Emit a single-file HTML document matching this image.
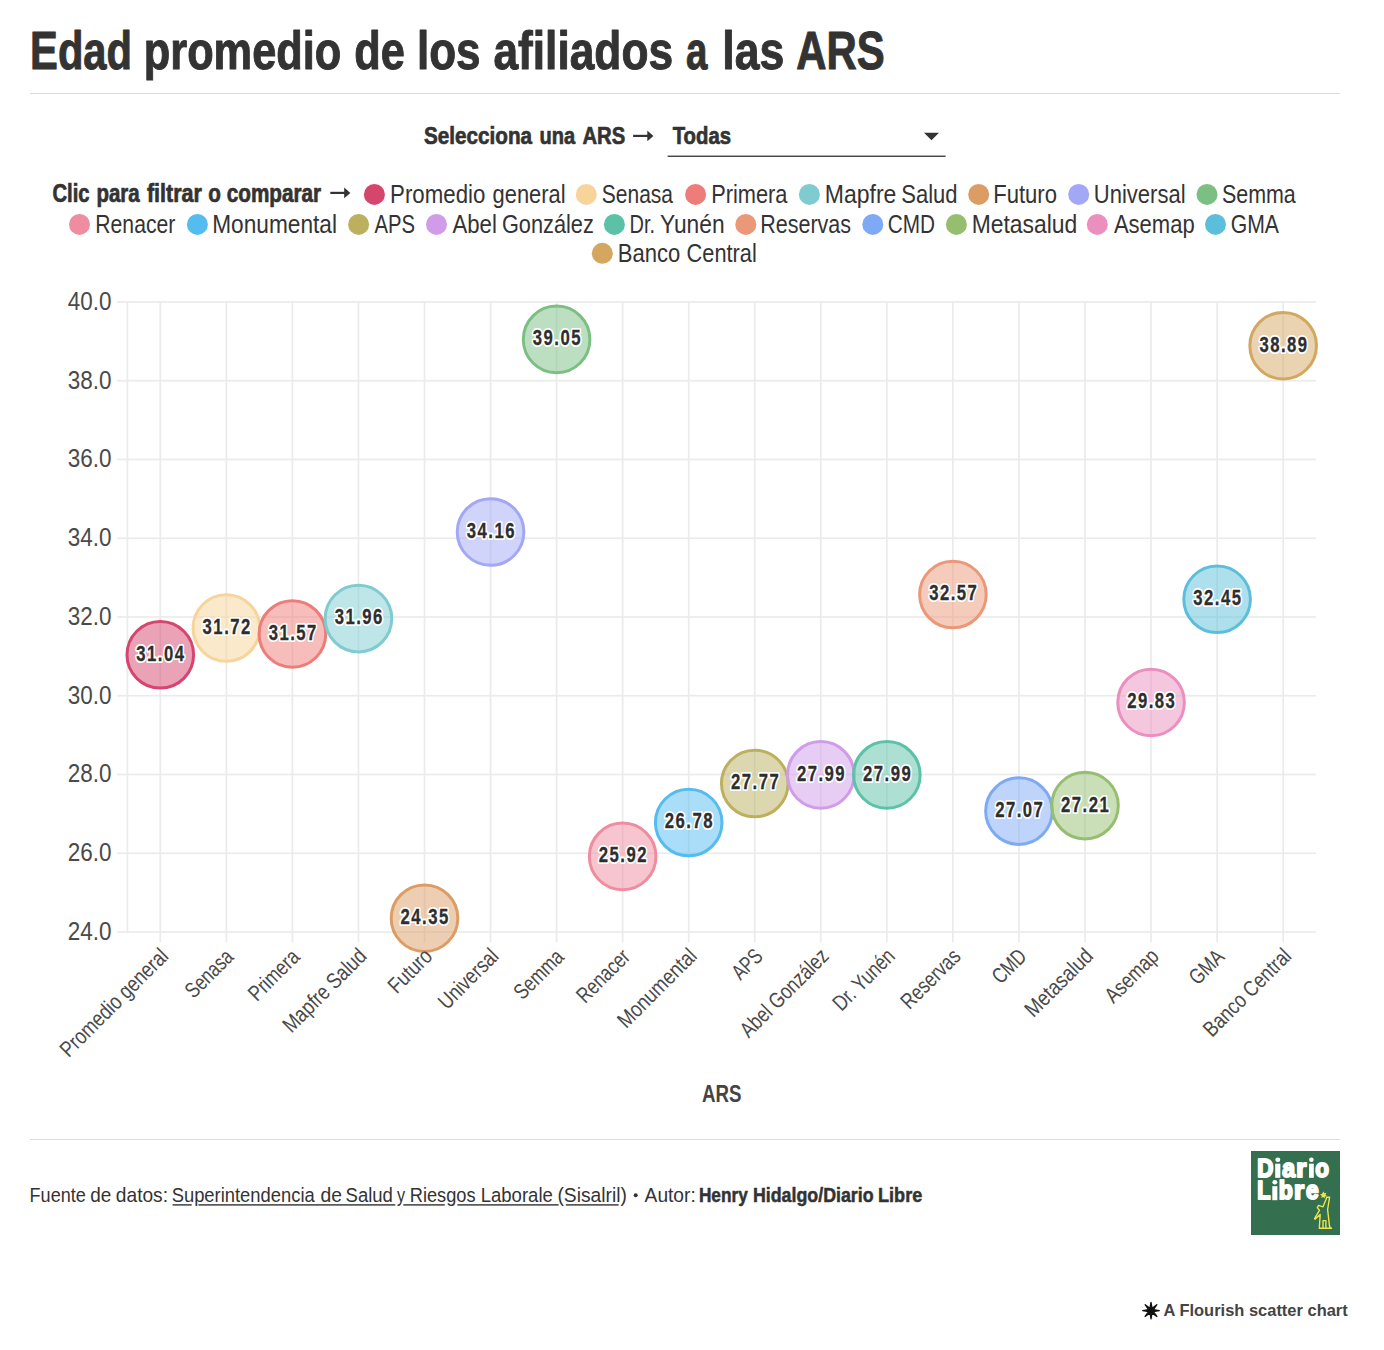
<!DOCTYPE html>
<html><head><meta charset="utf-8"><title>Edad promedio de los afiliados a las ARS</title><style>html,body{margin:0;padding:0;background:#fff;width:1384px;height:1350px;overflow:hidden}text{font-family:"Liberation Sans",sans-serif}</style></head><body>
<svg width="1384" height="1350" viewBox="0 0 1384 1350" style="display:block" font-family="Liberation Sans, sans-serif">
<rect width="1384" height="1350" fill="#fff"/>
<text transform="translate(30.09,68.60) scale(0.7817,1)" font-size="53.33" font-weight="bold" fill="#333" stroke="#333" stroke-width="1.00" stroke-linejoin="round" >Edad</text><text transform="translate(143.81,68.60) scale(0.8127,1)" font-size="53.33" font-weight="bold" fill="#333" stroke="#333" stroke-width="1.00" stroke-linejoin="round" >promedio</text><text transform="translate(354.37,68.60) scale(0.8134,1)" font-size="53.33" font-weight="bold" fill="#333" stroke="#333" stroke-width="1.00" stroke-linejoin="round" >de</text><text transform="translate(416.93,68.60) scale(0.8252,1)" font-size="53.33" font-weight="bold" fill="#333" stroke="#333" stroke-width="1.00" stroke-linejoin="round" >los</text><text transform="translate(493.39,68.60) scale(0.8307,1)" font-size="53.33" font-weight="bold" fill="#333" stroke="#333" stroke-width="1.00" stroke-linejoin="round" >afiliados</text><text transform="translate(686.01,68.60) scale(0.7215,1)" font-size="53.33" font-weight="bold" fill="#333" stroke="#333" stroke-width="1.00" stroke-linejoin="round" >a</text><text transform="translate(722.30,68.60) scale(0.8359,1)" font-size="53.33" font-weight="bold" fill="#333" stroke="#333" stroke-width="1.00" stroke-linejoin="round" >las</text><text transform="translate(796.35,68.60) scale(0.7858,1)" font-size="53.33" font-weight="bold" fill="#333" stroke="#333" stroke-width="1.00" stroke-linejoin="round" >ARS</text>
<rect x="30" y="93" width="1310" height="1" fill="#dcdcdc"/>
<text transform="translate(424.07,144.45) scale(0.8448,1)" font-size="24.49" font-weight="bold" fill="#333" stroke="#333" stroke-width="0.70" stroke-linejoin="round" >Selecciona</text><text transform="translate(539.48,144.45) scale(0.8195,1)" font-size="24.49" font-weight="bold" fill="#333" stroke="#333" stroke-width="0.70" stroke-linejoin="round" >una</text><text transform="translate(582.38,144.45) scale(0.8269,1)" font-size="24.49" font-weight="bold" fill="#333" stroke="#333" stroke-width="0.70" stroke-linejoin="round" >ARS</text>
<line x1="633.1" y1="135.9" x2="649.4" y2="135.9" stroke="#333" stroke-width="2.2"/><path d="M647.3,130.5 L653.4,135.9 L647.3,141.3 Z" fill="#333"/>
<text transform="translate(672.69,144.35) scale(0.8299,1)" font-size="24.49" font-weight="bold" fill="#333" stroke="#333" stroke-width="0.70" stroke-linejoin="round" >Todas</text>
<rect x="667.6" y="155.6" width="278" height="1.3" fill="#333"/>
<path d="M924,132.8 L939,132.8 L931.5,140.3 Z" fill="#333"/>
<text transform="translate(52.47,201.95) scale(0.8121,1)" font-size="24.93" font-weight="bold" fill="#333" stroke="#333" stroke-width="0.70" stroke-linejoin="round" >Clic</text><text transform="translate(96.46,201.95) scale(0.8203,1)" font-size="24.93" font-weight="bold" fill="#333" stroke="#333" stroke-width="0.70" stroke-linejoin="round" >para</text><text transform="translate(146.89,201.95) scale(0.8623,1)" font-size="24.93" font-weight="bold" fill="#333" stroke="#333" stroke-width="0.70" stroke-linejoin="round" >filtrar</text><text transform="translate(208.17,201.95) scale(0.8266,1)" font-size="24.93" font-weight="bold" fill="#333" stroke="#333" stroke-width="0.70" stroke-linejoin="round" >o</text><text transform="translate(226.76,201.95) scale(0.8301,1)" font-size="24.93" font-weight="bold" fill="#333" stroke="#333" stroke-width="0.70" stroke-linejoin="round" >comparar</text>
<line x1="330.3" y1="192.9" x2="346.3" y2="192.9" stroke="#333" stroke-width="2.2"/><path d="M344.2,187.5 L350.3,192.9 L344.2,198.3 Z" fill="#333"/>
<circle cx="374.40" cy="194.45" r="10.5" fill="#d5466f"/>
<text transform="translate(390.12,202.90) scale(0.8486,1)" font-size="26.23" font-weight="normal" fill="#333"  >Promedio</text><text transform="translate(492.62,202.90) scale(0.8344,1)" font-size="26.23" font-weight="normal" fill="#333"  >general</text>
<circle cx="586.30" cy="194.45" r="10.5" fill="#f7d49a"/>
<text transform="translate(601.85,202.90) scale(0.8000,1)" font-size="26.23" font-weight="normal" fill="#333" >Senasa</text>
<circle cx="695.60" cy="194.45" r="10.5" fill="#ee7c78"/>
<text transform="translate(711.15,202.90) scale(0.8315,1)" font-size="26.23" font-weight="normal" fill="#333" >Primera</text>
<circle cx="809.40" cy="194.45" r="10.5" fill="#7ecbd0"/>
<text transform="translate(824.76,202.90) scale(0.8772,1)" font-size="26.23" font-weight="normal" fill="#333"  >Mapfre</text><text transform="translate(901.30,202.90) scale(0.8390,1)" font-size="26.23" font-weight="normal" fill="#333"  >Salud</text>
<circle cx="978.70" cy="194.45" r="10.5" fill="#dc9d65"/>
<text transform="translate(993.13,202.90) scale(0.8423,1)" font-size="26.23" font-weight="normal" fill="#333" >Futuro</text>
<circle cx="1078.70" cy="194.45" r="10.5" fill="#a2a8f5"/>
<text transform="translate(1093.76,202.90) scale(0.8398,1)" font-size="26.23" font-weight="normal" fill="#333" >Universal</text>
<circle cx="1207.00" cy="194.45" r="10.5" fill="#7bbf83"/>
<text transform="translate(1221.93,202.90) scale(0.8174,1)" font-size="26.23" font-weight="normal" fill="#333" >Semma</text>
<circle cx="79.50" cy="224.4" r="10.5" fill="#ef8c9f"/>
<text transform="translate(95.31,232.60) scale(0.8069,1)" font-size="26.23" font-weight="normal" fill="#333" >Renacer</text>
<circle cx="197.40" cy="224.4" r="10.5" fill="#55bcef"/>
<text transform="translate(212.19,232.60) scale(0.8648,1)" font-size="26.23" font-weight="normal" fill="#333" >Monumental</text>
<circle cx="358.60" cy="224.4" r="10.5" fill="#bcb05f"/>
<text transform="translate(374.60,232.60) scale(0.7722,1)" font-size="26.23" font-weight="normal" fill="#333" >APS</text>
<circle cx="436.50" cy="224.4" r="10.5" fill="#d09be8"/>
<text transform="translate(452.50,232.60) scale(0.8450,1)" font-size="26.23" font-weight="normal" fill="#333"  >Abel</text><text transform="translate(501.91,232.60) scale(0.8300,1)" font-size="26.23" font-weight="normal" fill="#333"  >González</text>
<circle cx="614.40" cy="224.4" r="10.5" fill="#5bc2a8"/>
<text transform="translate(629.50,232.60) scale(0.7624,1)" font-size="26.23" font-weight="normal" fill="#333"  >Dr.</text><text transform="translate(659.94,232.60) scale(0.8692,1)" font-size="26.23" font-weight="normal" fill="#333"  >Yunén</text>
<circle cx="745.80" cy="224.4" r="10.5" fill="#eb9878"/>
<text transform="translate(760.18,232.60) scale(0.8209,1)" font-size="26.23" font-weight="normal" fill="#333" >Reservas</text>
<circle cx="872.80" cy="224.4" r="10.5" fill="#7eaaf5"/>
<text transform="translate(887.76,232.60) scale(0.7920,1)" font-size="26.23" font-weight="normal" fill="#333" >CMD</text>
<circle cx="956.40" cy="224.4" r="10.5" fill="#95bf6f"/>
<text transform="translate(971.67,232.60) scale(0.8733,1)" font-size="26.23" font-weight="normal" fill="#333" >Metasalud</text>
<circle cx="1097.30" cy="224.4" r="10.5" fill="#eb8fbf"/>
<text transform="translate(1113.90,232.60) scale(0.8391,1)" font-size="26.23" font-weight="normal" fill="#333" >Asemap</text>
<circle cx="1215.50" cy="224.4" r="10.5" fill="#5bbfdc"/>
<text transform="translate(1230.64,232.60) scale(0.8086,1)" font-size="26.23" font-weight="normal" fill="#333" >GMA</text>
<circle cx="602.30" cy="253.3" r="10.5" fill="#d4a761"/>
<text transform="translate(617.84,261.70) scale(0.8409,1)" font-size="26.23" font-weight="normal" fill="#333"  >Banco</text><text transform="translate(686.61,261.70) scale(0.8298,1)" font-size="26.23" font-weight="normal" fill="#333"  >Central</text>
<rect x="117" y="301.15" width="1199" height="1.7" fill="#ebebeb"/>
<rect x="117" y="379.90" width="1199" height="1.7" fill="#ebebeb"/>
<rect x="117" y="458.65" width="1199" height="1.7" fill="#ebebeb"/>
<rect x="117" y="537.40" width="1199" height="1.7" fill="#ebebeb"/>
<rect x="117" y="616.15" width="1199" height="1.7" fill="#ebebeb"/>
<rect x="117" y="694.90" width="1199" height="1.7" fill="#ebebeb"/>
<rect x="117" y="773.65" width="1199" height="1.7" fill="#ebebeb"/>
<rect x="117" y="852.40" width="1199" height="1.7" fill="#ebebeb"/>
<rect x="117" y="931.15" width="1199" height="1.7" fill="#ebebeb"/>
<rect x="126.55" y="301.15" width="1.7" height="631.70" fill="#ebebeb"/>
<rect x="159.45" y="301.15" width="1.7" height="641.25" fill="#ebebeb"/>
<rect x="225.50" y="301.15" width="1.7" height="641.25" fill="#ebebeb"/>
<rect x="291.55" y="301.15" width="1.7" height="641.25" fill="#ebebeb"/>
<rect x="357.60" y="301.15" width="1.7" height="641.25" fill="#ebebeb"/>
<rect x="423.65" y="301.15" width="1.7" height="641.25" fill="#ebebeb"/>
<rect x="489.70" y="301.15" width="1.7" height="641.25" fill="#ebebeb"/>
<rect x="555.75" y="301.15" width="1.7" height="641.25" fill="#ebebeb"/>
<rect x="621.80" y="301.15" width="1.7" height="641.25" fill="#ebebeb"/>
<rect x="687.85" y="301.15" width="1.7" height="641.25" fill="#ebebeb"/>
<rect x="753.90" y="301.15" width="1.7" height="641.25" fill="#ebebeb"/>
<rect x="819.95" y="301.15" width="1.7" height="641.25" fill="#ebebeb"/>
<rect x="886.00" y="301.15" width="1.7" height="641.25" fill="#ebebeb"/>
<rect x="952.05" y="301.15" width="1.7" height="641.25" fill="#ebebeb"/>
<rect x="1018.10" y="301.15" width="1.7" height="641.25" fill="#ebebeb"/>
<rect x="1084.15" y="301.15" width="1.7" height="641.25" fill="#ebebeb"/>
<rect x="1150.20" y="301.15" width="1.7" height="641.25" fill="#ebebeb"/>
<rect x="1216.25" y="301.15" width="1.7" height="641.25" fill="#ebebeb"/>
<rect x="1282.30" y="301.15" width="1.7" height="641.25" fill="#ebebeb"/>
<text transform="translate(67.65,309.90) scale(0.8870,1)" font-size="25.35" font-weight="normal" fill="#4a4a4a" >40.0</text>
<text transform="translate(67.65,388.65) scale(0.8870,1)" font-size="25.35" font-weight="normal" fill="#4a4a4a" >38.0</text>
<text transform="translate(67.65,467.40) scale(0.8870,1)" font-size="25.35" font-weight="normal" fill="#4a4a4a" >36.0</text>
<text transform="translate(67.65,546.15) scale(0.8870,1)" font-size="25.35" font-weight="normal" fill="#4a4a4a" >34.0</text>
<text transform="translate(67.65,624.90) scale(0.8870,1)" font-size="25.35" font-weight="normal" fill="#4a4a4a" >32.0</text>
<text transform="translate(67.65,703.65) scale(0.8870,1)" font-size="25.35" font-weight="normal" fill="#4a4a4a" >30.0</text>
<text transform="translate(67.65,782.40) scale(0.8870,1)" font-size="25.35" font-weight="normal" fill="#4a4a4a" >28.0</text>
<text transform="translate(67.65,861.15) scale(0.8870,1)" font-size="25.35" font-weight="normal" fill="#4a4a4a" >26.0</text>
<text transform="translate(67.65,939.90) scale(0.8870,1)" font-size="25.35" font-weight="normal" fill="#4a4a4a" >24.0</text>
<circle cx="160.30" cy="654.80" r="33.3" fill="#d5466f" fill-opacity="0.5" stroke="#d5466f" stroke-width="3"/>
<circle cx="226.35" cy="628.03" r="33.3" fill="#f7d49a" fill-opacity="0.5" stroke="#f7d49a" stroke-width="3"/>
<circle cx="292.40" cy="633.93" r="33.3" fill="#ee7c78" fill-opacity="0.5" stroke="#ee7c78" stroke-width="3"/>
<circle cx="358.45" cy="618.58" r="33.3" fill="#7ecbd0" fill-opacity="0.5" stroke="#7ecbd0" stroke-width="3"/>
<circle cx="424.50" cy="918.22" r="33.3" fill="#dc9d65" fill-opacity="0.5" stroke="#dc9d65" stroke-width="3"/>
<circle cx="490.55" cy="531.95" r="33.3" fill="#a2a8f5" fill-opacity="0.5" stroke="#a2a8f5" stroke-width="3"/>
<circle cx="556.60" cy="339.41" r="33.3" fill="#7bbf83" fill-opacity="0.5" stroke="#7bbf83" stroke-width="3"/>
<circle cx="622.65" cy="856.40" r="33.3" fill="#ef8c9f" fill-opacity="0.5" stroke="#ef8c9f" stroke-width="3"/>
<circle cx="688.70" cy="822.54" r="33.3" fill="#55bcef" fill-opacity="0.5" stroke="#55bcef" stroke-width="3"/>
<circle cx="754.75" cy="783.56" r="33.3" fill="#bcb05f" fill-opacity="0.5" stroke="#bcb05f" stroke-width="3"/>
<circle cx="820.80" cy="774.89" r="33.3" fill="#d09be8" fill-opacity="0.5" stroke="#d09be8" stroke-width="3"/>
<circle cx="886.85" cy="774.89" r="33.3" fill="#5bc2a8" fill-opacity="0.5" stroke="#5bc2a8" stroke-width="3"/>
<circle cx="952.90" cy="594.56" r="33.3" fill="#eb9878" fill-opacity="0.5" stroke="#eb9878" stroke-width="3"/>
<circle cx="1018.95" cy="811.12" r="33.3" fill="#7eaaf5" fill-opacity="0.5" stroke="#7eaaf5" stroke-width="3"/>
<circle cx="1085.00" cy="805.61" r="33.3" fill="#95bf6f" fill-opacity="0.5" stroke="#95bf6f" stroke-width="3"/>
<circle cx="1151.05" cy="702.44" r="33.3" fill="#eb8fbf" fill-opacity="0.5" stroke="#eb8fbf" stroke-width="3"/>
<circle cx="1217.10" cy="599.28" r="33.3" fill="#5bbfdc" fill-opacity="0.5" stroke="#5bbfdc" stroke-width="3"/>
<circle cx="1283.15" cy="345.71" r="33.3" fill="#d4a761" fill-opacity="0.5" stroke="#d4a761" stroke-width="3"/>
<text transform="translate(136.32,660.70) scale(0.7749,1)" font-size="21.55" letter-spacing="1.9" font-weight="bold" fill="#fff" stroke="#fff" stroke-width="4.2" stroke-linejoin="round">31.04</text>
<text transform="translate(136.32,660.70) scale(0.7749,1)" font-size="21.55" letter-spacing="1.9" font-weight="bold" fill="#2e2e2e" stroke="#2e2e2e" stroke-width="0.3" stroke-linejoin="round">31.04</text>
<text transform="translate(202.62,633.93) scale(0.7749,1)" font-size="21.55" letter-spacing="1.9" font-weight="bold" fill="#fff" stroke="#fff" stroke-width="4.2" stroke-linejoin="round">31.72</text>
<text transform="translate(202.62,633.93) scale(0.7749,1)" font-size="21.55" letter-spacing="1.9" font-weight="bold" fill="#2e2e2e" stroke="#2e2e2e" stroke-width="0.3" stroke-linejoin="round">31.72</text>
<text transform="translate(268.75,639.83) scale(0.7749,1)" font-size="21.55" letter-spacing="1.9" font-weight="bold" fill="#fff" stroke="#fff" stroke-width="4.2" stroke-linejoin="round">31.57</text>
<text transform="translate(268.75,639.83) scale(0.7749,1)" font-size="21.55" letter-spacing="1.9" font-weight="bold" fill="#2e2e2e" stroke="#2e2e2e" stroke-width="0.3" stroke-linejoin="round">31.57</text>
<text transform="translate(334.72,624.48) scale(0.7749,1)" font-size="21.55" letter-spacing="1.9" font-weight="bold" fill="#fff" stroke="#fff" stroke-width="4.2" stroke-linejoin="round">31.96</text>
<text transform="translate(334.72,624.48) scale(0.7749,1)" font-size="21.55" letter-spacing="1.9" font-weight="bold" fill="#2e2e2e" stroke="#2e2e2e" stroke-width="0.3" stroke-linejoin="round">31.96</text>
<text transform="translate(400.60,924.12) scale(0.7749,1)" font-size="21.55" letter-spacing="1.9" font-weight="bold" fill="#fff" stroke="#fff" stroke-width="4.2" stroke-linejoin="round">24.35</text>
<text transform="translate(400.60,924.12) scale(0.7749,1)" font-size="21.55" letter-spacing="1.9" font-weight="bold" fill="#2e2e2e" stroke="#2e2e2e" stroke-width="0.3" stroke-linejoin="round">24.35</text>
<text transform="translate(466.82,537.85) scale(0.7749,1)" font-size="21.55" letter-spacing="1.9" font-weight="bold" fill="#fff" stroke="#fff" stroke-width="4.2" stroke-linejoin="round">34.16</text>
<text transform="translate(466.82,537.85) scale(0.7749,1)" font-size="21.55" letter-spacing="1.9" font-weight="bold" fill="#2e2e2e" stroke="#2e2e2e" stroke-width="0.3" stroke-linejoin="round">34.16</text>
<text transform="translate(532.78,345.31) scale(0.7749,1)" font-size="21.55" letter-spacing="1.9" font-weight="bold" fill="#fff" stroke="#fff" stroke-width="4.2" stroke-linejoin="round">39.05</text>
<text transform="translate(532.78,345.31) scale(0.7749,1)" font-size="21.55" letter-spacing="1.9" font-weight="bold" fill="#2e2e2e" stroke="#2e2e2e" stroke-width="0.3" stroke-linejoin="round">39.05</text>
<text transform="translate(598.83,862.30) scale(0.7749,1)" font-size="21.55" letter-spacing="1.9" font-weight="bold" fill="#fff" stroke="#fff" stroke-width="4.2" stroke-linejoin="round">25.92</text>
<text transform="translate(598.83,862.30) scale(0.7749,1)" font-size="21.55" letter-spacing="1.9" font-weight="bold" fill="#2e2e2e" stroke="#2e2e2e" stroke-width="0.3" stroke-linejoin="round">25.92</text>
<text transform="translate(664.80,828.44) scale(0.7749,1)" font-size="21.55" letter-spacing="1.9" font-weight="bold" fill="#fff" stroke="#fff" stroke-width="4.2" stroke-linejoin="round">26.78</text>
<text transform="translate(664.80,828.44) scale(0.7749,1)" font-size="21.55" letter-spacing="1.9" font-weight="bold" fill="#2e2e2e" stroke="#2e2e2e" stroke-width="0.3" stroke-linejoin="round">26.78</text>
<text transform="translate(731.02,789.46) scale(0.7749,1)" font-size="21.55" letter-spacing="1.9" font-weight="bold" fill="#fff" stroke="#fff" stroke-width="4.2" stroke-linejoin="round">27.77</text>
<text transform="translate(731.02,789.46) scale(0.7749,1)" font-size="21.55" letter-spacing="1.9" font-weight="bold" fill="#2e2e2e" stroke="#2e2e2e" stroke-width="0.3" stroke-linejoin="round">27.77</text>
<text transform="translate(796.98,780.79) scale(0.7749,1)" font-size="21.55" letter-spacing="1.9" font-weight="bold" fill="#fff" stroke="#fff" stroke-width="4.2" stroke-linejoin="round">27.99</text>
<text transform="translate(796.98,780.79) scale(0.7749,1)" font-size="21.55" letter-spacing="1.9" font-weight="bold" fill="#2e2e2e" stroke="#2e2e2e" stroke-width="0.3" stroke-linejoin="round">27.99</text>
<text transform="translate(863.03,780.79) scale(0.7749,1)" font-size="21.55" letter-spacing="1.9" font-weight="bold" fill="#fff" stroke="#fff" stroke-width="4.2" stroke-linejoin="round">27.99</text>
<text transform="translate(863.03,780.79) scale(0.7749,1)" font-size="21.55" letter-spacing="1.9" font-weight="bold" fill="#2e2e2e" stroke="#2e2e2e" stroke-width="0.3" stroke-linejoin="round">27.99</text>
<text transform="translate(929.25,600.46) scale(0.7749,1)" font-size="21.55" letter-spacing="1.9" font-weight="bold" fill="#fff" stroke="#fff" stroke-width="4.2" stroke-linejoin="round">32.57</text>
<text transform="translate(929.25,600.46) scale(0.7749,1)" font-size="21.55" letter-spacing="1.9" font-weight="bold" fill="#2e2e2e" stroke="#2e2e2e" stroke-width="0.3" stroke-linejoin="round">32.57</text>
<text transform="translate(995.22,817.02) scale(0.7749,1)" font-size="21.55" letter-spacing="1.9" font-weight="bold" fill="#fff" stroke="#fff" stroke-width="4.2" stroke-linejoin="round">27.07</text>
<text transform="translate(995.22,817.02) scale(0.7749,1)" font-size="21.55" letter-spacing="1.9" font-weight="bold" fill="#2e2e2e" stroke="#2e2e2e" stroke-width="0.3" stroke-linejoin="round">27.07</text>
<text transform="translate(1061.10,811.51) scale(0.7749,1)" font-size="21.55" letter-spacing="1.9" font-weight="bold" fill="#fff" stroke="#fff" stroke-width="4.2" stroke-linejoin="round">27.21</text>
<text transform="translate(1061.10,811.51) scale(0.7749,1)" font-size="21.55" letter-spacing="1.9" font-weight="bold" fill="#2e2e2e" stroke="#2e2e2e" stroke-width="0.3" stroke-linejoin="round">27.21</text>
<text transform="translate(1127.23,708.34) scale(0.7749,1)" font-size="21.55" letter-spacing="1.9" font-weight="bold" fill="#fff" stroke="#fff" stroke-width="4.2" stroke-linejoin="round">29.83</text>
<text transform="translate(1127.23,708.34) scale(0.7749,1)" font-size="21.55" letter-spacing="1.9" font-weight="bold" fill="#2e2e2e" stroke="#2e2e2e" stroke-width="0.3" stroke-linejoin="round">29.83</text>
<text transform="translate(1193.28,605.18) scale(0.7749,1)" font-size="21.55" letter-spacing="1.9" font-weight="bold" fill="#fff" stroke="#fff" stroke-width="4.2" stroke-linejoin="round">32.45</text>
<text transform="translate(1193.28,605.18) scale(0.7749,1)" font-size="21.55" letter-spacing="1.9" font-weight="bold" fill="#2e2e2e" stroke="#2e2e2e" stroke-width="0.3" stroke-linejoin="round">32.45</text>
<text transform="translate(1259.42,351.61) scale(0.7749,1)" font-size="21.55" letter-spacing="1.9" font-weight="bold" fill="#fff" stroke="#fff" stroke-width="4.2" stroke-linejoin="round">38.89</text>
<text transform="translate(1259.42,351.61) scale(0.7749,1)" font-size="21.55" letter-spacing="1.9" font-weight="bold" fill="#2e2e2e" stroke="#2e2e2e" stroke-width="0.3" stroke-linejoin="round">38.89</text>
<g transform="translate(168.90,958.20) rotate(-45)"><text transform="translate(-141.54,0) scale(0.8206,1)" font-size="22.03" fill="#4a4a4a">Promedio general</text></g>
<g transform="translate(234.95,958.20) rotate(-45)"><text transform="translate(-58.15,0) scale(0.7764,1)" font-size="22.03" fill="#4a4a4a">Senasa</text></g>
<g transform="translate(301.00,958.20) rotate(-45)"><text transform="translate(-62.22,0) scale(0.8070,1)" font-size="22.03" fill="#4a4a4a">Primera</text></g>
<g transform="translate(367.05,958.20) rotate(-45)"><text transform="translate(-107.00,0) scale(0.8260,1)" font-size="22.03" fill="#4a4a4a">Mapfre Salud</text></g>
<g transform="translate(433.10,958.20) rotate(-45)"><text transform="translate(-51.32,0) scale(0.8174,1)" font-size="22.03" fill="#4a4a4a">Futuro</text></g>
<g transform="translate(499.15,958.20) rotate(-45)"><text transform="translate(-73.79,0) scale(0.8150,1)" font-size="22.03" fill="#4a4a4a">Universal</text></g>
<g transform="translate(565.20,958.20) rotate(-45)"><text transform="translate(-60.29,0) scale(0.7933,1)" font-size="22.03" fill="#4a4a4a">Semma</text></g>
<g transform="translate(631.25,958.20) rotate(-45)"><text transform="translate(-65.03,0) scale(0.7830,1)" font-size="22.03" fill="#4a4a4a">Renacer</text></g>
<g transform="translate(697.30,958.20) rotate(-45)"><text transform="translate(-100.58,0) scale(0.8393,1)" font-size="22.03" fill="#4a4a4a">Monumental</text></g>
<g transform="translate(763.35,958.20) rotate(-45)"><text transform="translate(-32.19,0) scale(0.7494,1)" font-size="22.03" fill="#4a4a4a">APS</text></g>
<g transform="translate(829.40,958.20) rotate(-45)"><text transform="translate(-114.02,0) scale(0.8025,1)" font-size="22.03" fill="#4a4a4a">Abel González</text></g>
<g transform="translate(895.45,958.20) rotate(-45)"><text transform="translate(-76.15,0) scale(0.8020,1)" font-size="22.03" fill="#4a4a4a">Dr. Yunén</text></g>
<g transform="translate(961.50,958.20) rotate(-45)"><text transform="translate(-73.53,0) scale(0.7966,1)" font-size="22.03" fill="#4a4a4a">Reservas</text></g>
<g transform="translate(1027.55,958.20) rotate(-45)"><text transform="translate(-37.93,0) scale(0.7687,1)" font-size="22.03" fill="#4a4a4a">CMD</text></g>
<g transform="translate(1093.60,958.20) rotate(-45)"><text transform="translate(-84.95,0) scale(0.8475,1)" font-size="22.03" fill="#4a4a4a">Metasalud</text></g>
<g transform="translate(1159.65,958.20) rotate(-45)"><text transform="translate(-65.12,0) scale(0.8143,1)" font-size="22.03" fill="#4a4a4a">Asemap</text></g>
<g transform="translate(1225.70,958.20) rotate(-45)"><text transform="translate(-39.41,0) scale(0.7847,1)" font-size="22.03" fill="#4a4a4a">GMA</text></g>
<g transform="translate(1291.75,958.20) rotate(-45)"><text transform="translate(-112.77,0) scale(0.8164,1)" font-size="22.03" fill="#4a4a4a">Banco Central</text></g>
<text transform="translate(702.03,1101.90) scale(0.7739,1)" font-size="24.20" font-weight="bold" fill="#444" >ARS</text>
<rect x="30" y="1139" width="1310" height="1" fill="#dcdcdc"/>
<text transform="translate(29.55,1202.00) scale(0.8731,1)" font-size="20.72" font-weight="normal" fill="#333"  >Fuente</text><text transform="translate(90.34,1202.00) scale(0.9135,1)" font-size="20.72" font-weight="normal" fill="#333"  >de</text><text transform="translate(115.83,1202.00) scale(0.9242,1)" font-size="20.72" font-weight="normal" fill="#333"  >datos:</text><text transform="translate(171.68,1202.00) scale(0.8871,1)" font-size="20.72" font-weight="normal" fill="#333"  >Superintendencia</text><text transform="translate(320.43,1202.00) scale(0.9322,1)" font-size="20.72" font-weight="normal" fill="#333"  >de</text><text transform="translate(345.57,1202.00) scale(0.8938,1)" font-size="20.72" font-weight="normal" fill="#333"  >Salud</text><text transform="translate(397.10,1202.00) scale(0.7817,1)" font-size="20.72" font-weight="normal" fill="#333"  >y</text><text transform="translate(409.74,1202.00) scale(0.8796,1)" font-size="20.72" font-weight="normal" fill="#333"  >Riesgos</text><text transform="translate(480.72,1202.00) scale(0.8946,1)" font-size="20.72" font-weight="normal" fill="#333"  >Laborale</text><text transform="translate(557.44,1202.00) scale(0.9291,1)" font-size="20.72" font-weight="normal" fill="#333"  >(Sisalril)</text>
<rect x="172.6" y="1204.2" width="19.1" height="1.4" fill="#333"/>
<rect x="198.4" y="1204.2" width="196.9" height="1.4" fill="#333"/>
<rect x="403.3" y="1204.2" width="41.5" height="1.4" fill="#333"/>
<rect x="457.4" y="1204.2" width="101.2" height="1.4" fill="#333"/>
<rect x="565.8" y="1204.2" width="52.8" height="1.4" fill="#333"/>
<circle cx="635.7" cy="1195.3" r="2.0" fill="#333"/>
<text transform="translate(644.60,1202.00) scale(0.9258,1)" font-size="20.72" font-weight="normal" fill="#333" >Autor:</text>
<text transform="translate(698.88,1201.75) scale(0.8623,1)" font-size="20.00" font-weight="bold" fill="#333" stroke="#333" stroke-width="0.50" stroke-linejoin="round" >Henry</text><text transform="translate(752.95,1201.75) scale(0.8904,1)" font-size="20.00" font-weight="bold" fill="#333" stroke="#333" stroke-width="0.50" stroke-linejoin="round" >Hidalgo/Diario</text><text transform="translate(878.04,1201.75) scale(0.9053,1)" font-size="20.00" font-weight="bold" fill="#333" stroke="#333" stroke-width="0.50" stroke-linejoin="round" >Libre</text>
<rect x="1251" y="1151" width="89" height="84" fill="#346f50"/>
<text transform="translate(1257.35,1176.80) scale(0.8891,1)" font-size="25.07" font-weight="bold" fill="#fff" stroke="#fff" stroke-width="2.00" stroke-linejoin="round" >D</text>
<text transform="translate(1282.13,1176.80) scale(0.9203,1)" font-size="25.07" font-weight="bold" fill="#fff" stroke="#fff" stroke-width="2.00" stroke-linejoin="round" >a</text>
<text transform="translate(1296.28,1176.80) scale(1.0376,1)" font-size="25.07" font-weight="bold" fill="#fff" stroke="#fff" stroke-width="2.00" stroke-linejoin="round" >r</text>
<text transform="translate(1315.30,1176.80) scale(0.8961,1)" font-size="25.07" font-weight="bold" fill="#fff" stroke="#fff" stroke-width="2.00" stroke-linejoin="round" >o</text>
<text transform="translate(1257.36,1199.20) scale(0.8645,1)" font-size="25.07" font-weight="bold" fill="#fff" stroke="#fff" stroke-width="2.00" stroke-linejoin="round" >L</text>
<text transform="translate(1278.84,1199.20) scale(0.9197,1)" font-size="25.07" font-weight="bold" fill="#fff" stroke="#fff" stroke-width="2.00" stroke-linejoin="round" >b</text>
<text transform="translate(1293.98,1199.20) scale(1.0376,1)" font-size="25.07" font-weight="bold" fill="#fff" stroke="#fff" stroke-width="2.00" stroke-linejoin="round" >r</text>
<text transform="translate(1305.90,1199.20) scale(0.9049,1)" font-size="25.07" font-weight="bold" fill="#fff" stroke="#fff" stroke-width="2.00" stroke-linejoin="round" >e</text>
<rect x="1275.2" y="1163.7" width="5.2" height="14.1" fill="#fff"/>
<ellipse cx="1277.80" cy="1159.80" rx="2.50" ry="2.30" fill="#fff"/>
<rect x="1309.0" y="1163.7" width="4.8" height="14.1" fill="#fff"/>
<ellipse cx="1311.40" cy="1159.80" rx="2.30" ry="2.30" fill="#fff"/>
<rect x="1272.3" y="1186.2" width="5.1" height="14.0" fill="#fff"/>
<ellipse cx="1274.85" cy="1182.25" rx="2.45" ry="2.35" fill="#fff"/>
<g fill="none" stroke="#ece64a" stroke-width="1.4" stroke-linejoin="round"><path d="M1319.3,1228.3 L1320.2,1214.5 L1315.0,1219.2 L1314.6,1218.6 L1319.4,1210.3 L1317.3,1207.6 L1318.6,1205.4 L1323.0,1206.8 L1326.0,1199.5 L1326.7,1197.2 L1329.6,1197.2 L1327.6,1209.5 L1329.6,1226.8 L1331.5,1228.3 Z M1323,1228 V1220.6 H1325.9 V1228"/></g>
<path d="M1323.3,1191.2 L1324.3,1193.3 L1326.6,1192.8 L1325.4,1194.8 L1327.2,1196.2 L1324.9,1196.4 L1324.6,1198.6 L1323.2,1196.9 L1321.2,1197.9 L1321.8,1195.7 L1319.8,1194.5 L1322.1,1193.9 Z" fill="#ece64a"/>
<polygon points="1151.00,1302.30 1151.99,1308.20 1156.87,1304.73 1153.40,1309.61 1159.30,1310.60 1153.40,1311.59 1156.87,1316.47 1151.99,1313.00 1151.00,1318.90 1150.01,1313.00 1145.13,1316.47 1148.60,1311.59 1142.70,1310.60 1148.60,1309.61 1145.13,1304.73 1150.01,1308.20" fill="#111" stroke="#111" stroke-width="1.3" stroke-linejoin="round"/>
<text transform="translate(1163.57,1316.00) scale(1.0538,1)" font-size="15.64" font-weight="bold" fill="#444" >A Flourish scatter chart</text>
</svg>
</body></html>
